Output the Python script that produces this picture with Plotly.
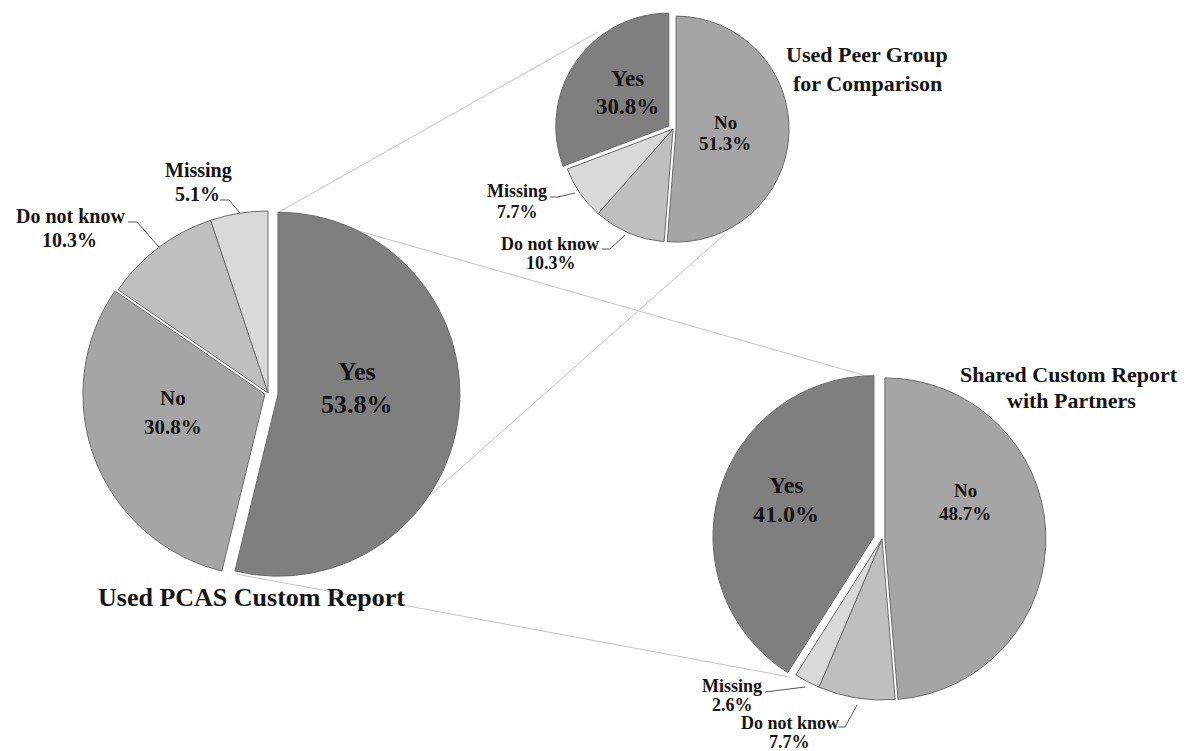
import plotly.graph_objects as go

W, H = 1187, 751

# ---------------- data ----------------
main_labels = ["Yes", "No", "Do not know", "Missing"]
main_values = [53.8, 30.8, 10.3, 5.1]

peer_labels = ["No", "Do not know", "Missing", "Yes"]
peer_values = [51.3, 10.3, 7.7, 30.8]

shared_labels = ["No", "Do not know", "Missing", "Yes"]
shared_values = [48.7, 7.7, 2.6, 41.0]

titles = {
    "main": ["Used PCAS Custom Report"],
    "peer": ["Used Peer Group", "for Comparison"],
    "shared": ["Shared Custom Report", "with Partners"],
}

# ---------------- styles ----------------
COLORS = {"Yes": "#7f7f7f", "No": "#a5a5a5", "Do not know": "#bfbfbf", "Missing": "#d9d9d9"}
OUTLINE = "#6b6b6b"
FONT = "Liberation Serif"
TXT = "#141414"

def X(px):
    return px / W

def Y(py):
    return 1 - py / H

def domain(cx, cy, r, maxpull):
    half = r * (1 + maxpull)
    return dict(x=[X(cx - half), X(cx + half)], y=[Y(cy + half), Y(cy - half)])

# pie geometry (pixel centre, radius) and pulls per label
pies = [
    dict(labels=main_labels, values=main_values, cx=268, cy=393, r=182,
         pull={"Yes": 0.055, "No": 0.018}),
    dict(labels=peer_labels, values=peer_values, cx=673, cy=129, r=113,
         pull={"Yes": 0.045, "No": 0.027}),
    dict(labels=shared_labels, values=shared_values, cx=882, cy=539, r=161,
         pull={"Yes": 0.052, "No": 0.018}),
]

fig = go.Figure()
for p in pies:
    pulls = [p["pull"].get(l, 0) for l in p["labels"]]
    fig.add_trace(go.Pie(
        labels=p["labels"], values=p["values"], sort=False,
        direction="clockwise", rotation=0, pull=pulls,
        marker=dict(colors=[COLORS[l] for l in p["labels"]],
                    line=dict(color=OUTLINE, width=1)),
        textinfo="none", hoverinfo="label+percent", showlegend=False,
        domain=domain(p["cx"], p["cy"], p["r"], max(pulls)),
    ))

annotations = []

def txt(x, y, s, size, bold=True):
    annotations.append(dict(
        x=X(x), y=Y(y), xref="paper", yref="paper", showarrow=False,
        text=(f"<b>{s}</b>" if bold else s), xanchor="center", yanchor="middle",
        font=dict(family=FONT, size=size, color=TXT)))

# slice label positions (line centres): label -> (x1, y1, x2, y2, size)
label_pos = [
    (main_labels, main_values, {
        "Yes": (357, 371, 357, 405, 26),
        "No": (173, 398, 173, 427, 21),
        "Do not know": (70, 216, 69, 240, 20),
        "Missing": (198, 170, 197, 194, 20),
    }),
    (peer_labels, peer_values, {
        "Yes": (627, 79, 627, 107, 23),
        "No": (725, 122, 725, 144, 19),
        "Missing": (517, 191, 517, 212, 18),
        "Do not know": (550, 244, 551, 263, 18),
    }),
    (shared_labels, shared_values, {
        "Yes": (786, 485, 786, 514, 24),
        "No": (965, 490, 965, 513, 19),
        "Missing": (732, 686, 732, 705, 18),
        "Do not know": (790, 723, 789, 742, 18),
    }),
]
for labels, values, pos in label_pos:
    for l, v in zip(labels, values):
        x1, y1, x2, y2, sz = pos[l]
        txt(x1, y1, l, sz)
        txt(x2, y2, f"{v:.1f}%", sz)

# titles
title_pos = {
    "main": [(252, 597, 26)],
    "peer": [(867, 55, 22), (867, 83, 22)],
    "shared": [(1069, 375, 22), (1071, 400, 22)],
}
for k, lines in titles.items():
    for line, (x, y, sz) in zip(lines, title_pos[k]):
        txt(x, y, line, sz)

shapes = []

def poly(pts, color, width):
    d = "M " + " L ".join(f"{X(a)},{Y(b)}" for a, b in pts)
    shapes.append(dict(type="path", path=d, xref="paper", yref="paper",
                       line=dict(color=color, width=width), layer="below"))

# connector lines between pies
CONN = "#c4c4c4"
poly([(279, 212), (598, 32)], CONN, 1)
poly([(345, 227), (870, 377)], CONN, 1)
poly([(410, 513), (725, 234)], CONN, 1)
poly([(236, 574), (790, 677)], CONN, 1)

# leader lines for small slices
LEAD = "#555555"
poly([(220, 200), (229, 200), (240, 213)], LEAD, 1)
poly([(128, 222), (137, 222), (159, 247)], LEAD, 1)
poly([(550, 197), (558, 197), (575, 193)], LEAD, 1)
poly([(602, 249), (610, 249), (625, 235)], LEAD, 1)
poly([(765, 692), (805, 687)], LEAD, 1)
poly([(838, 727), (845, 727), (857, 705)], LEAD, 1)

fig.update_layout(
    width=W, height=H, margin=dict(l=0, r=0, t=0, b=0),
    paper_bgcolor="white", plot_bgcolor="white",
    annotations=annotations, shapes=shapes,
)
fig.write_html("out.html", config={"displayModeBar": False},
               post_script="document.body.style.margin='0';document.body.style.overflow='hidden';")
